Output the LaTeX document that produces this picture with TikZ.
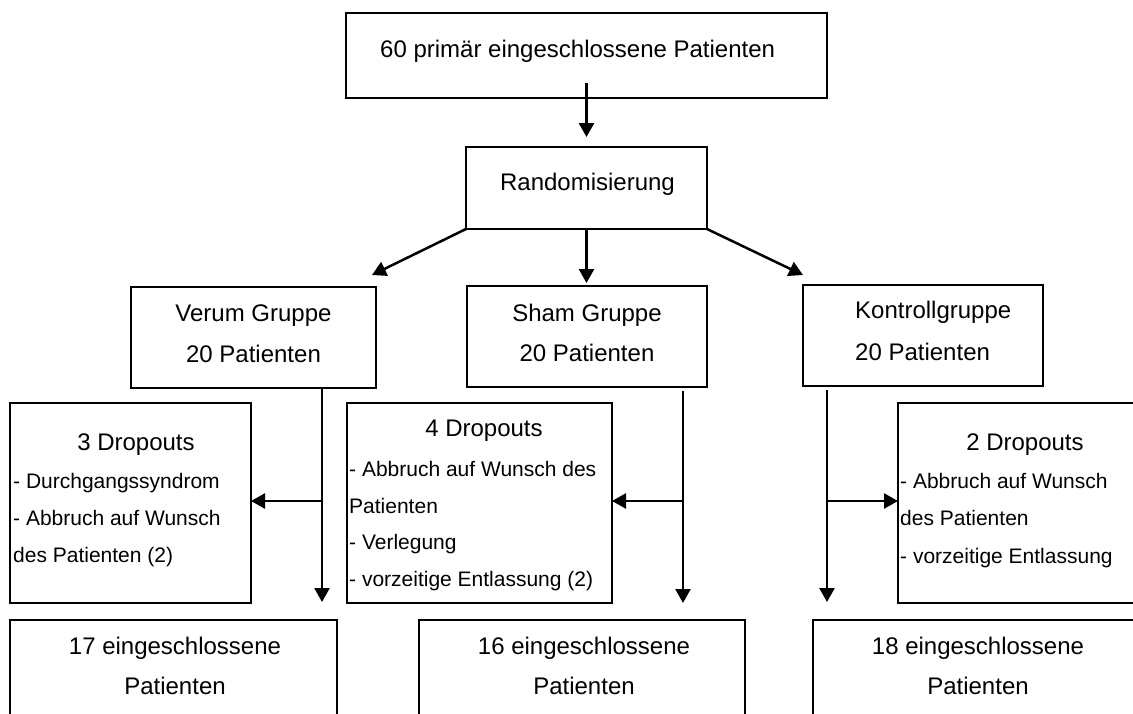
\documentclass[tikz,border=0pt]{standalone}
\usepackage{fontspec}
\setmainfont{Liberation Sans}
\usetikzlibrary{arrows.meta}
\begin{document}
\begin{tikzpicture}[x=1pt,y=-1pt,
  box/.style={draw, line width=2.6pt, rectangle, inner sep=0pt, outer sep=0pt, anchor=north west},
  arr/.style={line width=2.5pt, -{Triangle[length=14pt,width=15pt]}},
  big/.style={font=\fontsize{24}{29}\selectfont, inner sep=0pt},
  small/.style={font=\fontsize{21}{25}\selectfont, inner sep=0pt}]
\clip (0,0) rectangle (1133,713);
\fill[white] (0,0) rectangle (1133,713);
% boxes
\node[box, minimum width=481pt, minimum height=85pt] (top) at (346,13) {};
\node[box, minimum width=241pt, minimum height=82pt] (rand) at (466,147) {};
\node[box, minimum width=245pt, minimum height=101pt] (verum) at (131,287) {};
\node[box, minimum width=240pt, minimum height=101pt] (sham) at (467,286) {};
\node[box, minimum width=240pt, minimum height=101pt] (kontroll) at (803,285) {};
\node[box, minimum width=241pt, minimum height=200pt] (d3) at (10,403) {};
\node[box, minimum width=265pt, minimum height=200pt] (d4) at (347,403) {};
\node[box, minimum width=252pt, minimum height=200pt] (d2) at (898,403) {};
\node[box, minimum width=327pt, minimum height=120pt] (e17) at (10,620) {};
\node[box, minimum width=326pt, minimum height=120pt] (e16) at (419,620) {};
\node[box, minimum width=330pt, minimum height=120pt] (e18) at (813,620) {};
% connectors
\coordinate (shamIn) at ([yshift=3pt]sham.north);
\draw[arr] ([yshift=15pt]top.south) -- ([yshift=10pt]rand.north);
\draw[arr] (rand.south west) -- ([xshift=-4pt,yshift=12pt]verum.north east);
\draw[arr] (rand.south) -- (rand.south |- shamIn);
\draw[arr] (rand.south east) -- ([yshift=10pt]kontroll.north west);
\coordinate (vS) at (322,389);
\coordinate (vB) at (322,501);
\coordinate (vE) at (322,602);
\coordinate (sS) at (683,391);
\coordinate (sB) at (683,501);
\coordinate (sE) at (683,603);
\coordinate (kS) at (827,390);
\coordinate (kB) at (827,501);
\coordinate (kE) at (827,602);
\draw[arr] (vS) -- (vE);
\draw[arr] (vB) -- (d3.east |- vB);
\draw[arr] (sS) -- (sE);
\draw[arr] (sB) -- (d4.east |- sB);
\draw[arr] (kS) -- (kE);
\draw[arr] (kB) -- (d2.west |- kB);
% texts
\node[big, anchor=base west] (tTop) at (380,57) {60 primär eingeschlossene Patienten};
\node[big, anchor=base] (tRand) at (587.5,190) {Randomisierung};
\node[big, anchor=base] (tV1) at (253.5,321) {Verum Gruppe};
\node[big, anchor=base] (tV2) at (253.5,362) {20 Patienten};
\node[big, anchor=base] (tS1) at (587,321) {Sham Gruppe};
\node[big, anchor=base] (tS2) at (587,361) {20 Patienten};
\node[big, anchor=base west] (tK1) at (855,318) {Kontrollgruppe};
\node[big, anchor=base west] (tK2) at (855,360) {20 Patienten};
\node[big, anchor=base] (t3h) at (136,450) {3 Dropouts};
\node[small, anchor=base west] (t3a) at (13,488) {- Durchgangssyndrom};
\node[small, anchor=base west] (t3b) at (13,525) {- Abbruch auf Wunsch};
\node[small, anchor=base west] (t3c) at (13,562) {des Patienten (2)};
\node[big, anchor=base] (t4h) at (484,436) {4 Dropouts};
\node[small, anchor=base west] (t4a) at (349,476) {- Abbruch auf Wunsch des};
\node[small, anchor=base west] (t4b) at (349,513) {Patienten};
\node[small, anchor=base west] (t4c) at (349,549) {- Verlegung};
\node[small, anchor=base west] (t4d) at (349,586) {- vorzeitige Entlassung (2)};
\node[big, anchor=base] (t2h) at (1025,450) {2 Dropouts};
\node[small, anchor=base west] (t2a) at (900,488) {- Abbruch auf Wunsch};
\node[small, anchor=base west] (t2b) at (900,525) {des Patienten};
\node[small, anchor=base west] (t2c) at (900,563) {- vorzeitige Entlassung};
\node[big, anchor=base] (t17a) at (175,654) {17 eingeschlossene};
\node[big, anchor=base] (t17b) at (175,694) {Patienten};
\node[big, anchor=base] (t16a) at (584,654) {16 eingeschlossene};
\node[big, anchor=base] (t16b) at (584,694) {Patienten};
\node[big, anchor=base] (t18a) at (978,654) {18 eingeschlossene};
\node[big, anchor=base] (t18b) at (978,694) {Patienten};
\end{tikzpicture}
\end{document}
